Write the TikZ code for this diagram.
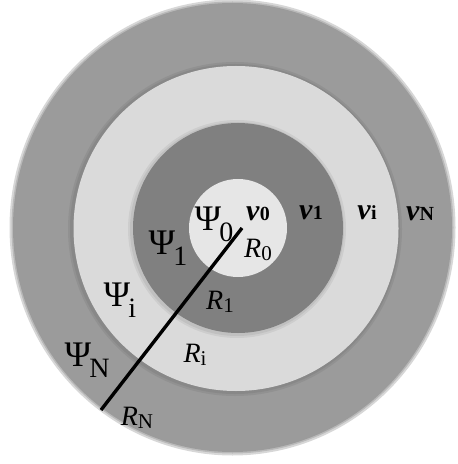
\documentclass[tikz,border=0pt]{standalone}
\usepackage{fontspec}
\setmainfont{Liberation Serif}
\definecolor{ringout}{HTML}{9B9B9B}
\definecolor{ringlight}{HTML}{DADADA}
\definecolor{ringdark}{HTML}{808080}
\definecolor{ringin}{HTML}{E6E6E6}
\newcommand{\psilab}[1]{Ψ\kern-0.05em\raisebox{-0.3em}{\fontsize{14}{14}\selectfont #1}}
\newcommand{\rlab}[1]{\textit{R}\raisebox{-0.1em}{\fontsize{10.5}{10.5}\selectfont #1}}
\newcommand{\nulab}[1]{\textbf{\textit{ν}}{\fontsize{10}{10}\selectfont\bfseries #1}}

\begin{document}
\begin{tikzpicture}[
  x=0.5pt, y=-0.5pt,
  psi/.style={font=\fontsize{18}{18}\selectfont, inner sep=0pt},
  rad/.style={font=\fontsize{14}{14}\selectfont, inner sep=0pt},
  nu/.style={font=\fontsize{15}{15}\selectfont, inner sep=0pt},
  shade1/.style={fill=black, opacity=0.06},
]
\useasboundingbox (0,0) rectangle (457,464);

% ---- Rings (outer to inner), with soft edges ----
\fill[ringout!40] (232.5,227.5) ellipse [x radius=223, y radius=228];
\fill[ringout!70] (232.5,227.5) ellipse [x radius=221, y radius=226];
\fill[ringout] (232.5,227.5) ellipse [x radius=219.5, y radius=224.5];
\fill[shade1] (235,229) circle [radius=167];
\fill[shade1] (235,229) circle [radius=165];
\fill[ringlight] (236,228.5) circle [radius=162.5];
\fill[shade1] (237,229) circle [radius=109];
\fill[shade1] (237,229) circle [radius=107];
\fill[ringdark] (238,228) circle [radius=105];
\fill[ringin] (238,228) circle [radius=49];

% ---- Radius line ----
\coordinate (ctr) at (242,228);
\coordinate (rend) at (101,410);
\draw[line width=1.7pt] (ctr) -- (rend);

% ---- Potentials ----
\node[psi] (psi0) at (214,224) {\psilab{0}};
\node[psi] (psi1) at (168,248) {\psilab{1}};
\node[psi] (psii) at (120,300) {\psilab{i}};
\node[psi] (psiN) at (87,360) {\psilab{N}};

% ---- Frequencies ----
\node[nu] (nu0) at (258,214) {\nulab{0}};
\node[nu] (nu1) at (311,213) {\nulab{1}};
\node[nu] (nui) at (367,213) {\nulab{i}};
\node[nu] (nuN) at (420,214) {\nulab{N}};

% ---- Radii ----
\node[rad] (r0) at (258,250) {\rlab{0}};
\node[rad] (r1) at (220,302) {\rlab{1}};
\node[rad] (ri) at (195,355) {\rlab{i}};
\node[rad] (rN) at (137,418) {\rlab{N}};

\end{tikzpicture}
\end{document}
